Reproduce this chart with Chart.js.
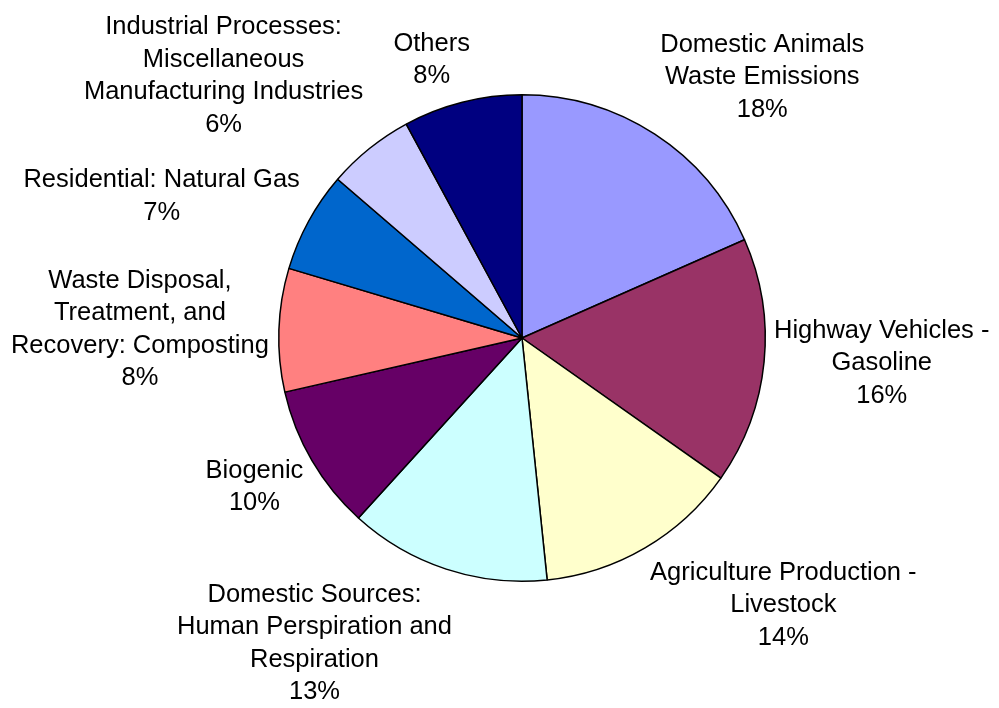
<!DOCTYPE html>
<html>
<head>
<meta charset="utf-8">
<script src="https://cdn.jsdelivr.net/npm/chart.js@4.4.1/dist/chart.umd.min.js"></script>
<style>
  html, body { margin: 0; padding: 0; background: #fff; }
  #wrap { width: 999px; height: 708px; }
</style>
</head>
<body>
<div id="wrap"><canvas id="graficaPastel" width="999" height="708"></canvas></div>
<script>
// categorias (cada una con sus lineas de etiqueta)
var categories = [
    ['Domestic Animals', 'Waste Emissions'],
    ['Highway Vehicles -', 'Gasoline'],
    ['Agriculture Production -', 'Livestock'],
    ['Domestic Sources:', 'Human Perspiration and', 'Respiration'],
    ['Biogenic'],
    ['Waste Disposal,', 'Treatment, and', 'Recovery: Composting'],
    ['Residential: Natural Gas'],
    ['Industrial Processes:', 'Miscellaneous', 'Manufacturing Industries'],
    ['Others']
];
var shares = [18.4, 16.4, 13.6, 13.4, 9.7, 8.2, 6.7, 5.8, 7.9];
var sliceColors = ['#9999FF', '#993366', '#FFFFCC', '#CCFFFF', '#660066',
                   '#FF8080', '#0066CC', '#CCCCFF', '#000080'];

var FONT_SIZE = 25.5;
var LINE_H = 32.5;

function clamp(t) { return Math.max(-1, Math.min(1, t)); }

// Plugin para dibujar las etiquetas fuera del pastel
var outsideLabels = {
    id: 'outsideLabels',
    afterDatasetsDraw: function(chart) {
        var ctx = chart.ctx;
        var meta = chart.getDatasetMeta(0);
        var data = chart.data.datasets[0].data;
        var total = data.reduce(function(a, b) { return a + b; }, 0);
        ctx.save();
        ctx.font = FONT_SIZE + 'px "Liberation Sans", Arial, sans-serif';
        ctx.fillStyle = '#000';
        ctx.textAlign = 'center';
        ctx.textBaseline = 'middle';
        meta.data.forEach(function(arc, i) {
            var p = arc.getProps(['x', 'y', 'startAngle', 'endAngle', 'outerRadius'], true);
            var mid = (p.startAngle + p.endAngle) / 2;
            var dx = Math.cos(mid), dy = Math.sin(mid);
            var r = p.outerRadius + 10;
            var lines = chart.data.labels[i].concat([Math.round(data[i] / total * 100) + '%']);
            var w = 0;
            lines.forEach(function(l) { w = Math.max(w, ctx.measureText(l).width); });
            var h = lines.length * LINE_H;
            var fy = Math.sign(dy) * clamp(Math.max(0, Math.abs(dy) - 0.1) * 1.6);
            var cx = p.x + r * dx + clamp(3 * dx) * w / 2;
            var cy = p.y + r * dy + fy * h / 2;
            lines.forEach(function(l, k) {
                ctx.fillText(l, cx, cy - h / 2 + LINE_H * (k + 0.5));
            });
        });
        ctx.restore();
    }
};

var ctx = document.getElementById('graficaPastel').getContext('2d');
window.pieChart = new Chart(ctx, {
    type: 'pie',
    data: {
        labels: categories,
        datasets: [{
            data: shares,
            backgroundColor: sliceColors,
            borderColor: '#000',
            borderWidth: 1.5
        }]
    },
    options: {
        responsive: false,
        animation: false,
        layout: {
            padding: { left: 278, right: 233, top: 94, bottom: 126 }
        },
        plugins: {
            legend: { display: false },
            tooltip: { enabled: false }
        }
    },
    plugins: [outsideLabels]
});
</script>
</body>
</html>
